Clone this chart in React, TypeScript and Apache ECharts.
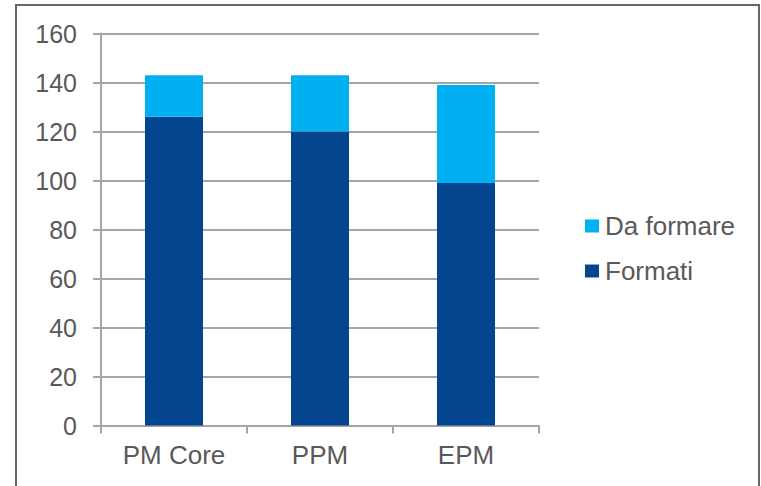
import React, { useEffect, useRef } from "react";
import * as echarts from "echarts";

const categories = ["PM Core", "PPM", "EPM"];
const formati = [126, 120, 99];
const daFormare = [17, 23, 40];
const seriesNames = ["Da formare", "Formati"];

export default function App() {
  const ref = useRef<HTMLDivElement>(null);
  useEffect(() => {
    document.body.style.margin = "0";
    const chart = echarts.init(ref.current!, null, { renderer: "svg" });
    const font = "'Liberation Sans', Arial, sans-serif";
    const txt = "#595959";
    const line = "#a6a6a6";
    chart.setOption({
      animation: false,
      backgroundColor: "#ffffff",
      graphic: [
        {
          type: "rect",
          shape: { x: 16, y: 5, width: 743, height: 520 },
          style: { fill: "none", stroke: "#666666", lineWidth: 2 },
          silent: true,
        },
      ],
      grid: { left: 101, right: 222, top: 33.5, bottom: 60.5, containLabel: false },
      legend: {
        data: seriesNames,
        orient: "vertical",
        left: 580,
        top: 208,
        itemWidth: 14,
        itemHeight: 13,
        itemGap: 19,
        icon: "rect",
        textStyle: { fontFamily: font, fontSize: 26, color: txt, padding: [0, 0, 0, 1] },
      },
      xAxis: {
        type: "category",
        data: categories,
        axisLine: { lineStyle: { color: line, width: 2 } },
        axisTick: { show: true, length: 8, lineStyle: { color: line, width: 2 } },
        axisLabel: { fontFamily: font, fontSize: 26, color: txt, margin: 16 },
      },
      yAxis: {
        type: "value",
        min: 0,
        max: 160,
        interval: 20,
        axisLine: { show: true, lineStyle: { color: line, width: 2 } },
        axisTick: { show: true, length: 8, lineStyle: { color: line, width: 2 } },
        splitLine: { lineStyle: { color: line, width: 2 } },
        axisLabel: { fontFamily: font, fontSize: 25, color: txt, margin: 24 },
      },
      series: [
        {
          name: "Formati",
          type: "bar",
          stack: "total",
          data: formati,
          barWidth: 58,
          itemStyle: { color: "#03468F" },
        },
        {
          name: "Da formare",
          type: "bar",
          stack: "total",
          data: daFormare,
          barWidth: 58,
          itemStyle: { color: "#00B0F0" },
        },
      ],
    });
    return () => chart.dispose();
  }, []);
  return <div ref={ref} style={{ position: "absolute", left: 0, top: 0, width: 761, height: 486 }} />;
}
